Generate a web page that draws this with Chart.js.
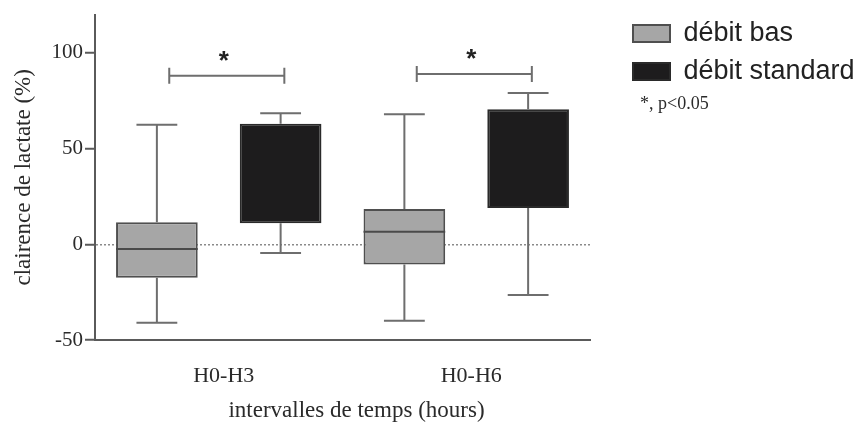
<!DOCTYPE html>
<html>
<head>
<meta charset="utf-8">
<script src="https://cdn.jsdelivr.net/npm/chart.js@4/dist/chart.umd.min.js"></script>
<style>
  html, body { margin: 0; padding: 0; background: #ffffff; }
  #wrap { width: 861px; height: 432px; position: relative; }
</style>
</head>
<body>
<div id="wrap"><canvas id="c" width="861" height="432"></canvas></div>
<script>
// ---- data ----
const categories = ['H0-H3', 'H0-H6'];
const seriesNames = ['débit bas', 'débit standard'];

const basMin    = [-41, -40];
const basQ1     = [-17.5, -10.5];
const basMedian = [-2.5, 6.5];
const basQ3     = [11.5, 18.5];
const basMax    = [62.5, 68];

const stdMin    = [-4.5, -26.5];
const stdQ1     = [11, 19];
const stdMedian = [null, null];   // not visible in the picture
const stdQ3     = [63, 70.5];
const stdMax    = [68.5, 79];

const sigBracketY = [88, 89];
const sigLabel = '*';
const footnote = '*, p<0.05';

const yTickValues = [-50, 0, 50, 100];
const yMin = -50, yMax = 120;

const yTitle = 'clairence de lactate (%)';
const xTitle = 'intervalles de temps (hours)';

// ---- build chart ----
const boxes = [
  { min: basMin, q1: basQ1, med: basMedian, q3: basQ3, max: basMax },
  { min: stdMin, q1: stdQ1, med: stdMedian, q3: stdQ3, max: stdMax }
];

const serif = '"Liberation Serif", "Times New Roman", serif';
const sans = '"Liberation Sans", Arial, sans-serif';

const boxPlugin = {
  id: 'boxExtras',
  afterInit(chart) {
    const lg = chart.legend;
    if (lg) {
      const f = lg.fit.bind(lg);
      lg.fit = function () { f(); this.width = 271; };
    }
  },
  afterLayout(chart) {
    const lg = chart.legend;
    if (lg) { lg.left = 622; lg.top = 9; }
  },
  afterDatasetsDraw(chart) {
    const { ctx } = chart;
    const y = chart.scales.y;
    const x = chart.scales.x;
    ctx.save();
    ctx.lineCap = 'butt';
    boxes.forEach((b, di) => {
      const meta = chart.getDatasetMeta(di);
      meta.data.forEach((bar, i) => {
        const cx = bar.x;
        const half = bar.width / 4;
        const pMin = y.getPixelForValue(b.min[i]);
        const pQ1 = y.getPixelForValue(b.q1[i]);
        const pQ3 = y.getPixelForValue(b.q3[i]);
        const pMax = y.getPixelForValue(b.max[i]);
        ctx.strokeStyle = '#6e6e6e';
        ctx.lineWidth = 2;
        ctx.beginPath();
        ctx.moveTo(cx, pQ3); ctx.lineTo(cx, pMax);
        ctx.moveTo(cx - half, pMax); ctx.lineTo(cx + half, pMax);
        ctx.moveTo(cx, pQ1); ctx.lineTo(cx, pMin);
        ctx.moveTo(cx - half, pMin); ctx.lineTo(cx + half, pMin);
        ctx.stroke();
        if (b.med[i] !== null && b.med[i] !== undefined) {
          const pMed = y.getPixelForValue(b.med[i]);
          ctx.strokeStyle = '#4a4a4a';
          ctx.beginPath();
          ctx.moveTo(bar.x - bar.width / 2, pMed);
          ctx.lineTo(bar.x + bar.width / 2, pMed);
          ctx.stroke();
        }
      });
    });
    // significance brackets
    const catW = x.width / categories.length;
    categories.forEach((c, i) => {
      const cc = x.getPixelForValue(i);
      const x1 = cc - 0.2 * catW;
      const x2 = cc + 0.265 * catW;
      const py = y.getPixelForValue(sigBracketY[i]);
      ctx.strokeStyle = '#6e6e6e';
      ctx.lineWidth = 2;
      ctx.beginPath();
      ctx.moveTo(x1, py); ctx.lineTo(x2, py);
      ctx.moveTo(x1, py - 8); ctx.lineTo(x1, py + 8);
      ctx.moveTo(x2, py - 8); ctx.lineTo(x2, py + 8);
      ctx.stroke();
      ctx.fillStyle = '#222';
      ctx.font = 'bold 26px ' + sans;
      ctx.textAlign = 'center';
      ctx.textBaseline = 'middle';
      ctx.fillText(sigLabel, (x1 + x2) / 2 - 3, py - 14);
    });
    // x axis title (offset to the right as in the reference)
    ctx.fillStyle = '#2a2a2a';
    ctx.font = '23px ' + serif;
    ctx.textAlign = 'center';
    ctx.textBaseline = 'middle';
    ctx.fillText(xTitle, (x.left + x.right) / 2 + 14, 411);
    // footnote
    ctx.font = '18px ' + serif;
    ctx.textAlign = 'left';
    ctx.fillText(footnote, 640, 104);
    ctx.restore();
  }
};

const chart = new Chart(document.getElementById('c'), {
  type: 'bar',
  data: {
    labels: categories,
    datasets: [
      {
        label: seriesNames[0],
        data: basQ1.map((v, i) => [v, basQ3[i]]),
        backgroundColor: '#a6a6a6',
        borderColor: '#4f4f4f',
        borderWidth: 2,
        borderSkipped: false
      },
      {
        label: seriesNames[1],
        data: stdQ1.map((v, i) => [v, stdQ3[i]]),
        backgroundColor: '#1d1c1d',
        borderColor: '#2a2a2a',
        borderWidth: 2,
        borderSkipped: false
      }
    ]
  },
  options: {
    responsive: false,
    animation: false,
    events: [],
    layout: { padding: { top: 11, left: 0, right: 0, bottom: 0 } },
    categoryPercentage: 1.0,
    barPercentage: 0.66,
    plugins: {
      tooltip: { enabled: false },
      legend: {
        display: true,
        position: 'right',
        align: 'start',
        labels: {
          boxWidth: 37,
          boxHeight: 17,
          padding: 11,
          color: '#222',
          font: { family: sans, size: 27 }
        }
      }
    },
    scales: {
      x: {
        type: 'category',
        offset: true,
        grid: { display: false, drawTicks: false },
        border: { display: true, color: '#5a5a5a', width: 2 },
        ticks: {
          color: '#2a2a2a',
          padding: 23,
          labelOffset: 5,
          font: { family: serif, size: 22 }
        },
        title: { display: false },
        afterFit(s) { s.height = 92; }
      },
      y: {
        type: 'linear',
        min: yMin,
        max: yMax,
        afterBuildTicks(s) { s.ticks = yTickValues.map(v => ({ value: v })); },
        grid: {
          drawOnChartArea: true,
          color: (c) => (c.tick && c.tick.value === 0) ? '#8a8a8a' : 'rgba(0,0,0,0)',
          lineWidth: 1.5,
          tickColor: '#5a5a5a',
          tickLength: 10,
          tickWidth: 2
        },
        border: { display: true, color: '#5a5a5a', width: 2, dash: [2, 2] },
        ticks: {
          color: '#2a2a2a',
          padding: 2,
          font: { family: serif, size: 21 }
        },
        title: {
          display: true,
          text: yTitle,
          color: '#2a2a2a',
          font: { family: serif, size: 23 },
          padding: { top: 10, bottom: 0 }
        },
        afterFit(s) { s.width = 95; }
      }
    }
  },
  plugins: [boxPlugin]
});
</script>
</body>
</html>
